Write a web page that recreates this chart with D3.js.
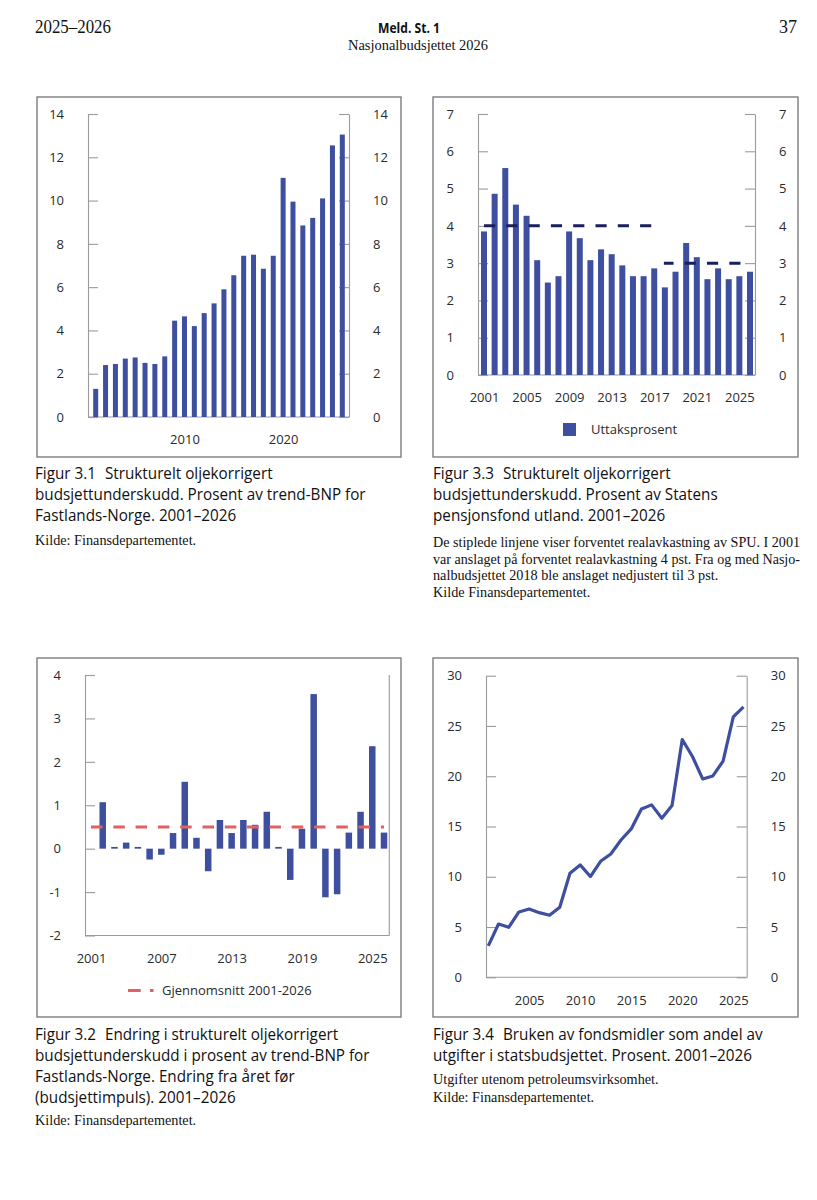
<!DOCTYPE html>
<html><head><meta charset="utf-8">
<script src="https://cdn.jsdelivr.net/npm/d3@7"></script>
<style>body{margin:0;background:#fff}svg{display:block}</style>
</head><body>
<svg id="c" width="817" height="1200"></svg>
<script>
// ---------- DATA ----------
const years = [2001,2002,2003,2004,2005,2006,2007,2008,2009,2010,2011,2012,2013,2014,2015,2016,2017,2018,2019,2020,2021,2022,2023,2024,2025,2026];
// Fig 3.1 structural deficit, % of trend GDP mainland
const deficitPctGDP = [1.3,2.4,2.45,2.7,2.75,2.5,2.45,2.8,4.45,4.65,4.2,4.8,5.25,5.9,6.55,7.45,7.5,6.85,7.45,11.05,9.95,8.85,9.2,10.1,12.55,13.05];
const ticks31 = [0,2,4,6,8,10,12,14];
const xLabels31 = [2010,2020];
// Fig 3.3 withdrawal percentage of GPFG
const withdrawalPct = [3.85,4.86,5.55,4.57,4.27,3.08,2.48,2.65,3.85,3.67,3.08,3.37,3.24,2.94,2.65,2.65,2.86,2.35,2.77,3.54,3.16,2.57,2.86,2.57,2.65,2.77];
const expectedReturnFrom = [2001,2018];
const expectedReturnTo = [2017,2026];
const expectedReturnValue = [4,3];
const ticks33 = [0,1,2,3,4,5,6,7];
const xLabels33 = [2001,2005,2009,2013,2017,2021,2025];
// Fig 3.2 budget impulse
const impulseYears = [2002,2003,2004,2005,2006,2007,2008,2009,2010,2011,2012,2013,2014,2015,2016,2017,2018,2019,2020,2021,2022,2023,2024,2025,2026];
const impulse = [1.07,0.04,0.14,0.04,-0.25,-0.14,0.36,1.54,0.25,-0.52,0.66,0.36,0.66,0.55,0.85,0.04,-0.72,0.46,3.56,-1.12,-1.05,0.37,0.85,2.36,0.37];
const impulseAvg = 0.5;
const ticks32 = [-2,-1,0,1,2,3,4];
const xLabels32 = [2001,2007,2013,2019,2025];
// Fig 3.4 fund share of budget expenditure
const fundShare = [3.12,5.3,4.97,6.5,6.8,6.43,6.17,6.97,10.35,11.18,10.02,11.54,12.27,13.66,14.76,16.75,17.15,15.82,17.08,23.65,21.96,19.73,20.03,21.5,25.9,26.9];
const ticks34 = [0,5,10,15,20,25,30];
const xLabels34 = [2005,2010,2015,2020,2025];

// ---------- STYLE ----------
const BAR = "#3e4f9f";
const NAVY = "#1a1f5e";
const RED = "#e26060";
const AXIS = "#9b9b9b";
const FRAME = "#7d7d7d";
const TXT = "#2a2a2a";
const SANS = "'Open Sans','Noto Sans',sans-serif";
const SERIF = "'Liberation Serif','DejaVu Serif',serif";

const svg = d3.select("#c");
const fmt = d => String(d);

function frame(x,y,w,h){
  svg.append("rect").attr("x",x).attr("y",y).attr("width",w).attr("height",h)
    .attr("fill","none").attr("stroke",FRAME).attr("stroke-width",1.4);
}
function styleAxis(g){
  g.selectAll("path.domain").attr("stroke",AXIS).attr("stroke-width",1.1);
  g.selectAll(".tick line").attr("stroke",AXIS).attr("stroke-width",1.1);
  g.selectAll(".tick text").attr("fill",TXT).style("font-family",SANS).style("font-size","13px");
}
function leftAxis(y, ticks, L){
  const g = svg.append("g").attr("transform",`translate(${L},0)`)
    .call(d3.axisLeft(y).tickValues(ticks).tickSize(-10).tickSizeOuter(0).tickPadding(24).tickFormat(fmt));
  styleAxis(g); return g;
}
function rightAxis(y, ticks, R){
  const g = svg.append("g").attr("transform",`translate(${R},0)`)
    .call(d3.axisRight(y).tickValues(ticks).tickSize(-10).tickSizeOuter(0).tickPadding(24).tickFormat(fmt));
  styleAxis(g); return g;
}
function bottomLabels(x, labels, B){
  const g = svg.append("g").attr("transform",`translate(0,${B})`)
    .call(d3.axisBottom(x).tickValues(labels).tickSize(0).tickPadding(18).tickFormat(fmt));
  g.select("path.domain").remove();
  styleAxis(g); return g;
}
function hline(x1,x2,y){
  svg.append("line").attr("x1",x1).attr("x2",x2).attr("y1",y).attr("y2",y).attr("stroke",AXIS).attr("stroke-width",1.1);
}
function vline(x,y1,y2){
  svg.append("line").attr("x1",x).attr("x2",x).attr("y1",y1).attr("y2",y2).attr("stroke",AXIS).attr("stroke-width",1.1);
}

// ---------- HEADER ----------
svg.append("text").attr("x",35).attr("y",33).text("2025–2026")
  .attr("textLength",76).attr("lengthAdjust","spacingAndGlyphs")
  .style("font-family",SERIF).style("font-size","18px").attr("fill","#111");
svg.append("text").attr("x",797).attr("y",33).attr("text-anchor","end").text("37")
  .style("font-family",SERIF).style("font-size","18px").attr("fill","#111");
svg.append("text").attr("x",378).attr("y",33).text("Meld. St. 1")
  .attr("textLength",62).attr("lengthAdjust","spacingAndGlyphs")
  .style("font-family",SANS).style("font-weight","bold").style("font-size","15px").attr("fill","#111");
svg.append("text").attr("x",348).attr("y",50).text("Nasjonalbudsjettet 2026")
  .attr("textLength",140).attr("lengthAdjust","spacingAndGlyphs")
  .style("font-family",SERIF).style("font-size","14px").attr("fill","#111");

// ---------- FIG 3.1 ----------
{
  frame(37,97,364,360);
  const L=88, R=349, T=114, B=417;
  const x = d3.scaleLinear().domain([2001,2026]).range([95.7,342.3]);
  const y = d3.scaleLinear().domain([0,14]).range([B,T]);
  leftAxis(y,ticks31,L); rightAxis(y,ticks31,R); hline(L,R,B);
  svg.append("g").selectAll("rect").data(years).join("rect")
    .attr("x",d=>x(d)-2.5).attr("width",5)
    .attr("y",(d,i)=>y(deficitPctGDP[i])).attr("height",(d,i)=>y(0)-y(deficitPctGDP[i]))
    .attr("fill",BAR);
  bottomLabels(x,xLabels31,B);
}

// ---------- FIG 3.3 ----------
{
  frame(433,97,365,360);
  const L=478, R=755, T=114, B=375;
  const x = d3.scaleLinear().domain([2001,2026]).range([484,750]);
  const y = d3.scaleLinear().domain([0,7]).range([B,T]);
  leftAxis(y,ticks33,L); rightAxis(y,ticks33,R); hline(L,R,B);
  svg.append("g").selectAll("rect").data(years).join("rect")
    .attr("x",d=>x(d)-3).attr("width",6)
    .attr("y",(d,i)=>y(withdrawalPct[i])).attr("height",(d,i)=>y(0)-y(withdrawalPct[i]))
    .attr("fill",BAR);
  const x0 = x(2001), period = 22.3;
  expectedReturnValue.forEach((v,i)=>{
    const xs = x(expectedReturnFrom[i]) - (i>0?1:0), xe = x(expectedReturnTo[i]);
    svg.append("line").attr("x1",xs).attr("x2",xe).attr("y1",y(v)).attr("y2",y(v))
      .attr("stroke",NAVY).attr("stroke-width",3)
      .attr("stroke-dasharray",`${period/2},${period/2}`)
      .attr("stroke-dashoffset",(xs-x0)%period);
  });
  bottomLabels(x,xLabels33,B);
  svg.append("rect").attr("x",563).attr("y",423).attr("width",13).attr("height",13).attr("fill",BAR);
  svg.append("text").attr("x",591).attr("y",429.5).attr("dy","0.35em").text("Uttaksprosent")
    .style("font-family",SANS).style("font-size","13px").attr("fill",TXT);
}

// ---------- FIG 3.2 ----------
{
  frame(37,658,364,359);
  const L=85, R=389.3, T=675, B=935.5;
  const x = d3.scaleLinear().domain([2001,2026]).range([91,384]);
  const y = d3.scaleLinear().domain([-2,4]).range([B,T]);
  leftAxis(y,ticks32,L); vline(R,T,B); hline(L,R,B);
  svg.append("g").selectAll("rect").data(impulseYears).join("rect")
    .attr("x",d=>x(d)-3.25).attr("width",6.5)
    .attr("y",(d,i)=>y(Math.max(0,impulse[i]))).attr("height",(d,i)=>Math.abs(y(impulse[i])-y(0)))
    .attr("fill",BAR);
  svg.append("line").attr("x1",x(2001)).attr("x2",x(2026)).attr("y1",y(impulseAvg)).attr("y2",y(impulseAvg))
    .attr("stroke",RED).attr("stroke-width",3).attr("stroke-dasharray","11.5,10.8");
  bottomLabels(x,xLabels32,B);
  svg.append("line").attr("x1",128).attr("x2",153.5).attr("y1",990.5).attr("y2",990.5)
    .attr("stroke",RED).attr("stroke-width",3).attr("stroke-dasharray","12.7,9.3");
  svg.append("text").attr("x",162).attr("y",990.5).attr("dy","0.35em").text("Gjennomsnitt 2001-2026")
    .style("font-family",SANS).style("font-size","13px").attr("fill",TXT);
}

// ---------- FIG 3.4 ----------
{
  frame(433,658,365,359);
  const L=486, R=746.7, T=675.7, B=977.3;
  const x = d3.scaleLinear().domain([2001,2026]).range([488.3,743.5]);
  const y = d3.scaleLinear().domain([0,30]).range([B,T]);
  leftAxis(y,ticks34,L); rightAxis(y,ticks34,R); hline(L,R,B);
  const line = d3.line().x((d,i)=>x(years[i])).y(d=>y(d));
  svg.append("path").datum(fundShare).attr("d",line).attr("fill","none")
    .attr("stroke",BAR).attr("stroke-width",3.2).attr("stroke-linejoin","round");
  bottomLabels(x,xLabels34,B);
}

// ---------- CAPTIONS ----------
// w = approximate line width in the reference; one common compression factor is fitted per group
const titleLines = [
  {x:35, y:479, lab:"Figur 3.1", t:"Strukturelt oljekorrigert", w:258},
  {x:35, y:500, t:"budsjettunderskudd. Prosent av trend-BNP for", w:321},
  {x:35, y:521, t:"Fastlands-Norge. 2001–2026", w:202},
  {x:433, y:479, lab:"Figur 3.3", t:"Strukturelt oljekorrigert", w:242},
  {x:433, y:500, t:"budsjettunderskudd. Prosent av Statens", w:252},
  {x:433, y:521, t:"pensjonsfond utland. 2001–2026", w:231},
  {x:35, y:1040, lab:"Figur 3.2", t:"Endring i strukturelt oljekorrigert", w:336},
  {x:35, y:1061, t:"budsjettunderskudd i prosent av trend-BNP for", w:330},
  {x:35, y:1082, t:"Fastlands-Norge. Endring fra året før", w:268},
  {x:35, y:1103, t:"(budsjettimpuls). 2001–2026", w:197},
  {x:433, y:1040, lab:"Figur 3.4", t:"Bruken av fondsmidler som andel av", w:323},
  {x:433, y:1061, t:"utgifter i statsbudsjettet. Prosent. 2001–2026", w:317}
];
const GAP = 9;
function sansText(x,y,s){
  return svg.append("text").attr("x",x).attr("y",y).text(s)
    .style("font-family",SANS).style("font-size","17px").attr("fill","#111");
}
titleLines.forEach(d=>{
  d.nodes = [];
  if(d.lab){ d.nodes.push(sansText(d.x,d.y,d.lab)); }
  d.nodes.push(sansText(d.x,d.y,d.t));
  d.nat = d.nodes.map(n=>n.node().getComputedTextLength());
});
// least-squares common factor
let num=0, den=0;
titleLines.forEach(d=>{
  const n = d3.sum(d.nat), g = d.lab?GAP:0;
  num += n*(d.w-g); den += n*n;
});
const kT = num/den;
titleLines.forEach(d=>{
  let x = d.x;
  d.nodes.forEach((n,i)=>{
    n.attr("x",x).attr("textLength",d.nat[i]*kT).attr("lengthAdjust","spacingAndGlyphs");
    x += d.nat[i]*kT + GAP;
  });
});

const noteLines = [
  {x:35, y:545, t:"Kilde: Finansdepartementet.", w:166},
  {x:433, y:547, t:"De stiplede linjene viser forventet realavkastning av SPU. I 2001", w:367, just:true},
  {x:433, y:564, t:"var anslaget på forventet realavkastning 4 pst. Fra og med Nasjo-", w:367, just:true},
  {x:433, y:580, t:"nalbudsjettet 2018 ble anslaget nedjustert til 3 pst.", w:266},
  {x:433, y:597, t:"Kilde Finansdepartementet.", w:168},
  {x:35, y:1125, t:"Kilde: Finansdepartementet.", w:166},
  {x:433, y:1084, t:"Utgifter utenom petroleumsvirksomhet.", w:232},
  {x:433, y:1102, t:"Kilde: Finansdepartementet.", w:166}
];
noteLines.forEach(d=>{
  d.node = svg.append("text").attr("x",d.x).attr("y",d.y).text(d.t)
    .style("font-family",SERIF).style("font-size","14.3px").attr("fill","#111");
  d.nat = d.node.node().getComputedTextLength();
});
let n2=0, d2=0;
noteLines.filter(d=>!d.just).forEach(d=>{ n2 += d.nat*d.w; d2 += d.nat*d.nat; });
const kN = n2/d2;
noteLines.forEach(d=>{
  d.node.attr("textLength", d.just ? d.w : d.nat*kN).attr("lengthAdjust","spacingAndGlyphs");
});
</script>
</body></html>
